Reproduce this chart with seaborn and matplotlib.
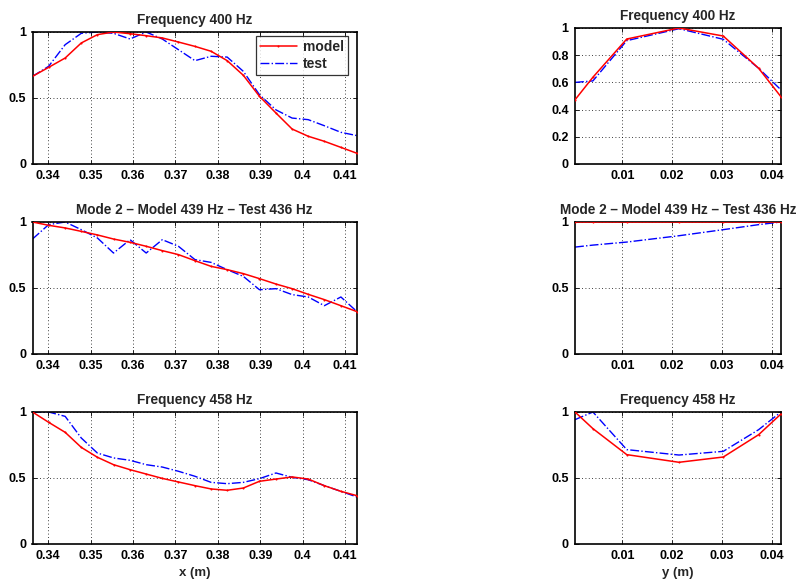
import numpy as np
import pandas as pd
import matplotlib
matplotlib.use('Agg')
import matplotlib.pyplot as plt
import seaborn as sns

sns.set_theme(style='white')
plt.rcParams['font.family'] = ['Liberation Sans', 'DejaVu Sans']
plt.rcParams['font.weight'] = 'bold'

# positions des mesures
x_pos = [0.3363, 0.3401, 0.3440, 0.3478, 0.3516, 0.3554, 0.3593, 0.3631, 0.3669, 0.3707,
         0.3746, 0.3784, 0.3822, 0.3860, 0.3898, 0.3937, 0.3975, 0.4013, 0.4051, 0.4090, 0.4128]
y_pos = [0.0005, 0.0041, 0.0109, 0.0214, 0.0303, 0.0374, 0.0419]

# mode 400 Hz
model_400_x = [0.664, 0.732, 0.803, 0.917, 0.980, 1.000, 0.987, 0.972, 0.955, 0.924,
               0.891, 0.854, 0.783, 0.672, 0.513, 0.386, 0.265, 0.210, 0.172, 0.126, 0.081]
test_400_x = [0.664, 0.740, 0.904, 0.990, 1.000, 0.990, 0.947, 1.000, 0.947, 0.866,
              0.783, 0.816, 0.810, 0.702, 0.525, 0.410, 0.348, 0.336, 0.290, 0.240, 0.215]
model_400_y = [0.472, 0.638, 0.919, 1.000, 0.941, 0.704, 0.494]
test_400_y = [0.600, 0.611, 0.907, 0.995, 0.917, 0.704, 0.545]

# mode 2 (439 / 436 Hz)
model_439_x = [1.000, 0.975, 0.955, 0.929, 0.902, 0.871, 0.846, 0.816, 0.783, 0.753,
               0.707, 0.664, 0.639, 0.609, 0.571, 0.530, 0.495, 0.452, 0.412, 0.366, 0.321]
test_436_x = [0.871, 0.980, 1.000, 0.942, 0.879, 0.765, 0.866, 0.765, 0.866, 0.816,
              0.715, 0.694, 0.639, 0.588, 0.487, 0.495, 0.450, 0.432, 0.366, 0.432, 0.321]
model_439_y = [1.000, 1.000, 1.000, 1.000, 1.000, 1.000, 1.000]
test_436_y = [0.810, 0.825, 0.848, 0.896, 0.942, 0.980, 1.000]

# mode 458 Hz
model_458_x = [1.000, 0.922, 0.846, 0.732, 0.657, 0.601, 0.563, 0.530, 0.497, 0.470,
               0.442, 0.417, 0.407, 0.424, 0.475, 0.492, 0.508, 0.492, 0.442, 0.399, 0.366]
test_458_x = [1.000, 1.000, 0.967, 0.803, 0.689, 0.652, 0.634, 0.601, 0.583, 0.551,
              0.513, 0.467, 0.457, 0.467, 0.495, 0.538, 0.505, 0.487, 0.442, 0.399, 0.356]
model_458_y = [1.000, 0.874, 0.677, 0.619, 0.659, 0.828, 0.985]
test_458_y = [0.942, 1.000, 0.715, 0.674, 0.702, 0.866, 1.000]

titles = ['Frequency 400 Hz', 'Mode 2 \u2013 Model 439 Hz \u2013 Test 436 Hz', 'Frequency 458 Hz']
rows_x = [(model_400_x, test_400_x), (model_439_x, test_436_x), (model_458_x, test_458_x)]
rows_y = [(model_400_y, test_400_y), (model_439_y, test_436_y), (model_458_y, test_458_y)]

W, H = 802, 581
fig = plt.figure(figsize=(W / 100, H / 100), dpi=100, facecolor='white')

# boites des axes en pixels (gauche, haut, droite, bas)
left_boxes = [(32.5, 32, 357, 164), (32.5, 222, 357, 354), (32.5, 412, 357, 544)]
right_boxes = [(575, 28, 781, 164), (575, 222, 781, 354), (575, 412, 781, 544)]


def make_ax(box):
    l, t, r, b = box
    return fig.add_axes([l / W, 1 - b / H, (r - l) / W, (b - t) / H])


def style_ax(ax, title):
    ax.set_title(title, fontsize=9.8, fontweight='bold', pad=6)
    ax.grid(True, linestyle=(0, (1, 3)), color='black', linewidth=0.6)
    ax.tick_params(direction='in', length=3, width=0.6, labelsize=9,
                   top=True, right=True, bottom=True, left=True, pad=4.5, colors='black')
    for lab in ax.get_xticklabels() + ax.get_yticklabels():
        lab.set_fontweight('bold')
    for sp in ax.spines.values():
        sp.set_color('black')
        sp.set_linewidth(1.2)
    ax.set_xlabel('')
    ax.set_ylabel('')


def draw(ax, xs, model, test):
    df = pd.DataFrame({'pos': xs, 'model': model, 'test': test})
    sns.lineplot(data=df, x='pos', y='model', ax=ax, color='red', linewidth=1.1,
                 marker='.', markersize=3, markeredgewidth=0, label='model', zorder=3)
    sns.lineplot(data=df, x='pos', y='test', ax=ax, color='blue', linewidth=1.0,
                 linestyle='-.', label='test', zorder=2)


for i in range(3):
    ax = make_ax(left_boxes[i])
    draw(ax, x_pos, *rows_x[i])
    ax.set_xlim(x_pos[0], x_pos[-1])
    ax.set_ylim(0, 1)
    ax.set_xticks([0.34, 0.35, 0.36, 0.37, 0.38, 0.39, 0.40, 0.41])
    ax.set_xticklabels(['0.34', '0.35', '0.36', '0.37', '0.38', '0.39', '0.4', '0.41'])
    ax.set_yticks([0, 0.5, 1])
    ax.set_yticklabels(['0', '0.5', '1'])
    style_ax(ax, titles[i])
    if i == 0:
        leg = ax.legend(loc='upper right', bbox_to_anchor=(0.972, 0.97), fontsize=10,
                        frameon=True, fancybox=False, borderaxespad=0, handlelength=2.7,
                        borderpad=0.3, labelspacing=0.2, handletextpad=0.4)
        leg.get_frame().set_edgecolor('black')
        leg.get_frame().set_linewidth(0.9)
        for t in leg.get_texts():
            t.set_fontweight('bold')
    else:
        ax.get_legend().remove()
    if i == 2:
        ax.set_xlabel('x (m)', fontsize=9.5, fontweight='bold', labelpad=3.5)

    ax2 = make_ax(right_boxes[i])
    draw(ax2, y_pos, *rows_y[i])
    ax2.get_legend().remove()
    ax2.set_xlim(y_pos[0], y_pos[-1])
    ax2.set_ylim(0, 1)
    ax2.set_xticks([0.01, 0.02, 0.03, 0.04])
    ax2.set_xticklabels(['0.01', '0.02', '0.03', '0.04'])
    if i == 0:
        ax2.set_yticks([0, 0.2, 0.4, 0.6, 0.8, 1])
        ax2.set_yticklabels(['0', '0.2', '0.4', '0.6', '0.8', '1'])
    else:
        ax2.set_yticks([0, 0.5, 1])
        ax2.set_yticklabels(['0', '0.5', '1'])
    style_ax(ax2, titles[i])
    if i == 2:
        ax2.set_xlabel('y (m)', fontsize=9.5, fontweight='bold', labelpad=3.5)

fig.savefig('out.png', dpi=100, facecolor='white')
